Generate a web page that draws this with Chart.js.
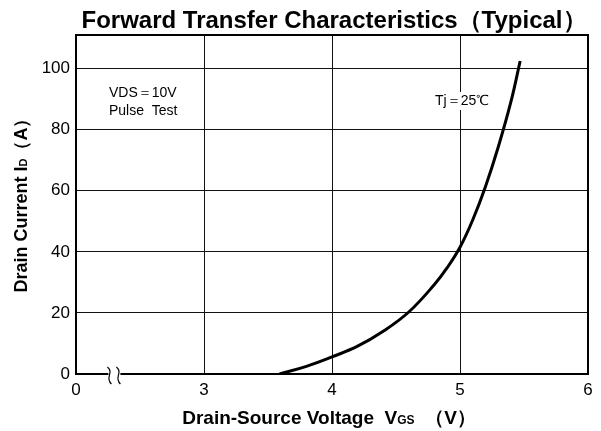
<!DOCTYPE html>
<html>
<head>
<meta charset="utf-8">
<script src="https://cdn.jsdelivr.net/npm/chart.js@4.4.1/dist/chart.umd.min.js"></script>
<style>
  html, body { margin: 0; padding: 0; background: #fff; }
  #wrap { width: 601px; height: 431px; }
</style>
</head>
<body>
<div id="wrap"><canvas id="c" width="601" height="431"></canvas></div>
<script>
// VGS (V) vs ID (A), Tj = 25°C
const vgs = [3.59, 3.8, 4.0, 4.2, 4.4, 4.6, 4.8, 4.9, 5.0, 5.1, 5.2, 5.3, 5.4, 5.47];
const idA = [0, 2.5, 5.6, 9.1, 14.0, 20.3, 29.3, 34.8, 41.5, 50.5, 61.5, 74.5, 89.5, 102.5];

const xTicks = [2, 3, 4, 5, 6];
const xTickLabels = ["0", "3", "4", "5", "6"];
const yTicks = [0, 20, 40, 60, 80, 100];

const FONT = "'Liberation Sans', Arial, Helvetica, sans-serif";

// titles, notes and the axis break, drawn on the canvas
const decor = {
    id: "decor",
    afterDraw(chart) {
        const ctx = chart.ctx;
        const a = chart.chartArea;
        const xs = chart.scales.x, ys = chart.scales.y;
        ctx.save();
        ctx.fillStyle = "#000";

        // main title
        ctx.font = "bold 24px " + FONT;
        ctx.textAlign = "center";
        ctx.textBaseline = "alphabetic";
        ctx.fillText("Forward Transfer Characteristics\uFF08Typical\uFF09", (a.left + a.right) / 2 + 2, 28);

        // x axis title with subscript
        drawSub(ctx, [["Drain-Source Voltage  V", "bold 19px "], ["GS", "bold 12px "], ["  \uFF08V\uFF09", "bold 19px "]], 329, 418);

        // y axis title (rotated)
        ctx.save();
        ctx.translate(21, 201);
        ctx.rotate(-Math.PI / 2);
        drawSub(ctx, [["Drain Current I", "bold 18px "], ["D", "bold 11px "], ["\uFF08A\uFF09", "bold 18px "]], 0, 0);
        ctx.restore();

        // notes
        ctx.font = "14px " + FONT;
        ctx.textAlign = "left";
        ctx.textBaseline = "middle";
        ctx.fillText("VDS\uFF1D10V", 109, 93);
        ctx.fillText("Pulse  Test", 109, 111);

        const tjW = ctx.measureText("Tj\uFF1D25\u2103").width;
        ctx.fillStyle = "#fff";
        ctx.fillRect(433, 92, tjW + 4, 18);
        ctx.fillStyle = "#000";
        ctx.fillText("Tj\uFF1D25\u2103", 435, 101);

        // axis break
        const bx = xs.getPixelForValue(2.3);
        const by = ys.getPixelForValue(0);
        ctx.fillStyle = "#fff";
        ctx.fillRect(bx - 6, by - 2, 12, 4);
        ctx.strokeStyle = "#000";
        ctx.lineWidth = 1.2;
        [bx - 5, bx + 4].forEach(cx => {
            ctx.beginPath();
            ctx.moveTo(cx - 2, by - 7);
            ctx.bezierCurveTo(cx + 5, by - 1, cx - 5, by + 3, cx + 2, by + 10);
            ctx.stroke();
        });
        ctx.restore();
    }
};

function drawSub(ctx, parts, cx, cy) {
    let w = 0;
    parts.forEach(p => { ctx.font = p[1] + FONT; w += ctx.measureText(p[0]).width; });
    let x = cx - w / 2;
    ctx.textAlign = "left";
    ctx.textBaseline = "alphabetic";
    parts.forEach(p => {
        ctx.font = p[1] + FONT;
        ctx.fillText(p[0], x, cy + 6);
        x += ctx.measureText(p[0]).width;
    });
}

new Chart(document.getElementById("c"), {
    type: "line",
    data: {
        datasets: [{
            data: vgs.map((v, i) => ({ x: v, y: idA[i] })),
            borderColor: "#000",
            borderWidth: 3,
            pointRadius: 0,
            fill: false,
            tension: 0.4
        }]
    },
    options: {
        responsive: false,
        animation: false,
        layout: { padding: { top: 35, right: 13, left: 0, bottom: 0 } },
        plugins: { legend: { display: false }, tooltip: { enabled: false }, title: { display: false } },
        scales: {
            x: {
                type: "linear",
                min: 2,
                max: 6,
                afterBuildTicks: s => { s.ticks = xTicks.map(v => ({ value: v })); },
                afterFit: s => { s.height = 57; },
                ticks: {
                    color: "#000",
                    font: { family: FONT, size: 17 },
                    padding: 6,
                    maxRotation: 0,
                    callback: v => xTickLabels[xTicks.indexOf(v)]
                },
                grid: { color: "#111", lineWidth: 1, drawTicks: false },
                border: { color: "#000", width: 2 }
            },
            y: {
                min: 0,
                max: 111,
                afterBuildTicks: s => { s.ticks = yTicks.map(v => ({ value: v })); },
                afterFit: s => { s.width = 76; },
                ticks: {
                    color: "#000",
                    font: { family: FONT, size: 17 },
                    padding: 6
                },
                grid: { color: "#111", lineWidth: 1, drawTicks: false },
                border: { color: "#000", width: 2 }
            }
        }
    },
    plugins: [decor, {
        id: "frame",
        afterDatasetsDraw(chart) {
            const a = chart.chartArea, ctx = chart.ctx;
            ctx.save();
            ctx.strokeStyle = "#000";
            ctx.lineWidth = 2;
            ctx.strokeRect(a.left, a.top, a.right - a.left, a.bottom - a.top);
            ctx.restore();
        }
    }]
});
</script>
</body>
</html>
